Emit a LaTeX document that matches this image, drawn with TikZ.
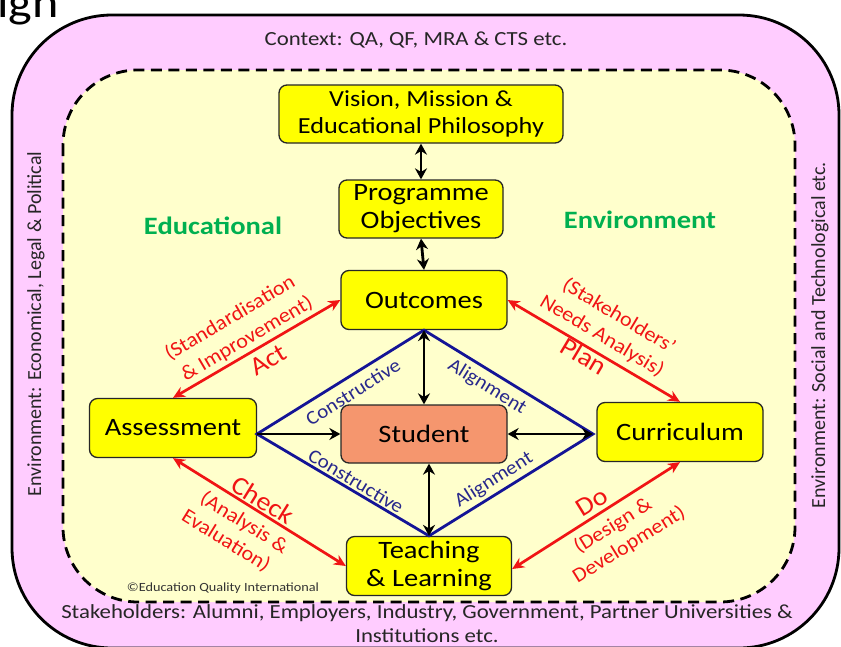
\documentclass[tikz,border=0pt]{standalone}
\usepackage{fontspec}
\setmainfont{Carlito}[FakeStretch=1.14]
\newfontfamily\vfont{Carlito}
\newfontfamily\dfont{Carlito}[FakeStretch=1.08]
\usetikzlibrary{arrows.meta}
\definecolor{pinkbg}{RGB}{255,204,255}
\definecolor{creambg}{RGB}{255,255,204}
\definecolor{boxyellow}{RGB}{255,255,0}
\definecolor{salmon}{RGB}{245,150,110}
\definecolor{arrred}{RGB}{240,20,20}
\definecolor{navy}{RGB}{20,20,150}
\definecolor{navytext}{RGB}{40,40,140}
\definecolor{envgreen}{RGB}{0,176,80}
\begin{document}
\begin{tikzpicture}[x=1pt,y=-1pt,
  ybox/.style={draw=black!85, line width=1.3pt, rounded corners=8pt, fill=boxyellow, inner sep=0pt, align=center, text=black, font=\fontsize{25}{28}\selectfont},
  blk/.style={draw=black, line width=2.8pt, {Stealth[length=11pt,width=12pt]}-{Stealth[length=11pt,width=12pt]}},
  blkone/.style={draw=black, line width=2.8pt, -{Stealth[length=11pt,width=12pt]}},
  redarr/.style={draw=arrred, line width=2.7pt, {Stealth[length=12pt,width=11pt]}-{Stealth[length=12pt,width=11pt]}},
  blueline/.style={draw=navy, line width=2.8pt, line join=miter},
  redlbl/.style={text=arrred, inner sep=0pt, font=\dfont\fontsize{20.5}{22}\selectfont},
  redbig/.style={text=arrred, inner sep=0pt, font=\dfont\fontsize{26}{27}\selectfont},
  bluelbl/.style={text=navytext, inner sep=0pt, font=\dfont\fontsize{19.5}{21}\selectfont},
  greenlbl/.style={text=envgreen, inner sep=0pt, font=\bfseries\fontsize{25}{27}\selectfont},
  ctxlbl/.style={text=black!85, inner sep=0pt, font=\fontsize{20}{24}\selectfont},
  vlbl/.style={text=black!85, inner sep=0pt, rotate=90, font=\vfont\fontsize{20}{22}\selectfont}
]
\useasboundingbox (0,0) rectangle (841,646);
\fill[white] (0,0) rectangle (841,646);
% frames
\draw[fill=pinkbg, line width=2.8pt, rounded corners=100pt] (12,15) rectangle (839,648);
\draw[fill=creambg, line width=2.8pt, dash pattern=on 11pt off 6.5pt, rounded corners=75pt] (63,70) rectangle (795,602);
% partial title
\node[anchor=base west, inner sep=0pt, font=\fontsize{44}{44}\selectfont] (ign) at (-3,17) {ign};
% boxes
\node[ybox, minimum width=284pt, minimum height=58pt, font=\fontsize{23}{27}\selectfont] (vis) at (421,114) {Vision, Mission \&\\Educational Philosophy};
\node[ybox, minimum width=164pt, minimum height=58pt] (prog) at (421,209) {Programme\\Objectives};
\node[ybox, minimum width=166pt, minimum height=59pt] (out) at (424,300) {Outcomes};
\node[ybox, minimum width=167pt, minimum height=59pt] (ass) at (173,428) {Assessment};
\node[ybox, minimum width=166pt, minimum height=59pt] (cur) at (680,432) {Curriculum};
\node[ybox, minimum width=165pt, minimum height=59pt] (tea) at (429,566) {Teaching\\\& Learning};
\coordinate (T) at (out.south);
\coordinate (B) at (tea.north);
\coordinate (L) at (257,434);
\coordinate (R) at (593,434);
% diamond
\draw[blueline] (T) -- (R) -- (B) -- (L) -- cycle;
\node[ybox, fill=salmon, minimum width=166pt, minimum height=58pt] (stu) at (424,434) {Student};
% black arrows
\draw[blk] (vis.south) -- (prog.north);
\draw[blk] (prog.south) -- (out.north);
\draw[blk] (T) -- (stu.north);
\draw[blk] (stu.south -| B) -- (B);
\draw[blkone] (L) -- (stu.west);
\draw[blk] (R) -- (stu.east);
% red arrows
\draw[redarr] (out.west) -- (ass.north);
\draw[redarr] (out.east) -- (cur.north);
\draw[redarr] (ass.south) -- (tea.west);
\draw[redarr] ([yshift=-3pt]tea.east) -- (cur.south);
% red labels
\node[redlbl, rotate=30.5] (std) at (230,318) {(Standardisation};
\node[redlbl, rotate=30.5] (imp) at (247,339) {\& Improvement)};
\node[redbig, rotate=30.5] (act) at (268,360) {Act};
\node[redlbl, rotate=-30.8] (stk) at (619,316) {(Stakeholders’};
\node[redlbl, rotate=-30.8] (nds) at (602,336) {Needs Analysis)};
\node[redbig, rotate=-30.8] (plan) at (584,356) {Plan};
\node[redbig, rotate=-31.8] (chk) at (263,500) {Check};
\node[redlbl, rotate=-31.8] (ana) at (244,523) {(Analysis \&};
\node[redlbl, rotate=-31.8] (eva) at (226,541) {Evaluation)};
\node[redbig, rotate=31.8] (do) at (592,502) {Do};
\node[redlbl, rotate=31.8] (des) at (613,526) {(Design \&};
\node[redlbl, rotate=31.8] (dev) at (629,545) {Development)};
% blue labels
\node[bluelbl, rotate=31.9] (c1) at (353,392) {Constructive};
\node[bluelbl, rotate=-31.6] (a1) at (487,387) {Alignment};
\node[bluelbl, rotate=-30.9] (c2) at (356,481) {Constructive};
\node[bluelbl, rotate=32.1] (a2) at (494,480) {Alignment};
% green labels
\node[greenlbl] (edu) at (213,226) {Educational};
\node[greenlbl] (env) at (640,220) {Environment};
% context texts
\node[ctxlbl] (ctx) at (416,40) {Context: QA, QF, MRA \& CTS etc.};
\node[vlbl] (envl) at (36,324) {Environment: Economical, Legal \& Political};
\node[vlbl] (envr) at (820,335) {Environment: Social and Technological etc.};
\node[ctxlbl] (stake1) at (427,613) {Stakeholders: Alumni, Employers, Industry, Government, Partner Universities \&};
\node[ctxlbl] (stake2) at (427,636) {Institutions etc.};
\node[text=black!80, inner sep=0pt, font=\fontsize{12.5}{14}\selectfont] (copy) at (223,588) {©Education Quality International};
\end{tikzpicture}
\end{document}
